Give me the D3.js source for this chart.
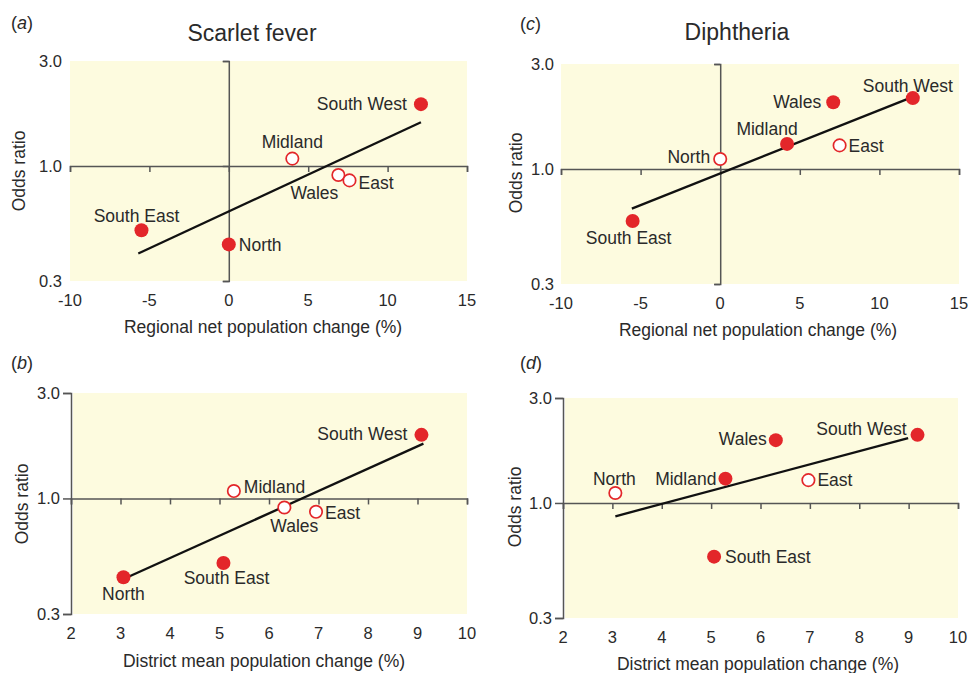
<!DOCTYPE html>
<html>
<head>
<meta charset="utf-8">
<script src="https://cdn.jsdelivr.net/npm/d3@7"></script>
<style>
  body { margin: 0; background: #fff; }
  text { font-family: "Liberation Sans", Arial, sans-serif; fill: #2a2a2a; }
</style>
</head>
<body>
<svg id="chart" width="970" height="673"></svg>
<script>
// Data ------------------------------------------------------------------------------------------
const regions = ["South West", "Midland", "Wales", "East", "South East", "North"];

// (a) scarlet fever vs regional net population change
const sfRegionalChange = [12.1, 4.0, 6.9, 7.6, -5.5, 0.0];
const sfRegionalOR = [1.91, 1.08, 0.91, 0.86, 0.51, 0.44];
const sfRegionalFilled = [true, false, false, false, true, true];
const sfRegionalFit = [[-5.7, 0.40], [12.1, 1.58]];

// (c) diphtheria vs regional net population change
const dpRegionalChange = [12.1, 4.2, 7.1, 7.5, -5.5, 0.0];
const dpRegionalOR = [2.10, 1.30, 2.01, 1.28, 0.58, 1.11];
const dpRegionalFilled = [true, true, true, false, true, false];
const dpRegionalFit = [[-5.55, 0.66], [11.9, 2.10]];

// (b) scarlet fever vs district mean population change
const sfDistrictChange = [9.08, 5.29, 6.31, 6.95, 5.08, 3.06];
const sfDistrictOR = [1.94, 1.08, 0.91, 0.87, 0.51, 0.44];
const sfDistrictFilled = [true, false, false, false, true, true];
const sfDistrictFit = [[3.14, 0.44], [9.12, 1.77]];

// (d) diphtheria vs district mean population change
const dpDistrictChange = [9.18, 5.29, 6.31, 6.97, 5.06, 3.06];
const dpDistrictOR = [2.04, 1.29, 1.93, 1.27, 0.57, 1.11];
const dpDistrictFilled = [true, true, true, false, true, false];
const dpDistrictFit = [[3.06, 0.87], [8.99, 1.97]];

// Ticks
const regionalTicks = [-10, -5, 0, 5, 10, 15];
const districtTicks = [2, 3, 4, 5, 6, 7, 8, 9, 10];
const orTicks = [0.3, 1.0, 3.0];

// Colours ---------------------------------------------------------------------------------------
const red = "#e3262a",
      panelBg = "#fdfbdf",
      axisColor = "#555";

const svg = d3.select("#chart");

// Panel -----------------------------------------------------------------------------------------
const drawPanel = p => {
  const x = d3.scaleLinear().domain(p.xDomain).range(p.xRange);
  const y = d3.scaleLog().domain([0.3, 3]).range(p.yRange);
  const g = svg.append("g");

  // background
  g.append("rect")
    .attr("x", p.xRange[0] + p.bgInset)
    .attr("y", p.yRange[1])
    .attr("width", p.xRange[1] - p.xRange[0] - p.bgInset)
    .attr("height", p.yRange[0] - p.yRange[1])
    .attr("fill", panelBg);

  // letter + title
  const letter = g.append("text")
    .attr("x", p.letterPos[0]).attr("y", p.letterPos[1])
    .style("font-size", "18px");
  letter.append("tspan").text("(");
  letter.append("tspan").style("font-style", "italic").text(p.letter);
  letter.append("tspan").text(")");

  if (p.title) {
    g.append("text")
      .attr("x", p.titlePos[0]).attr("y", p.titlePos[1])
      .attr("text-anchor", "middle")
      .style("font-size", "23px")
      .text(p.title);
  }

  // tick labels (left edge and bottom)
  g.selectAll(".ylab").data(orTicks).join("text")
    .attr("x", p.xRange[0] - p.yLabelGap)
    .attr("y", d => y(d))
    .attr("dy", "0.36em")
    .attr("text-anchor", "end")
    .style("font-size", "16.5px")
    .text(d3.format(".1f"));

  g.selectAll(".xlab").data(p.xTicks).join("text")
    .attr("x", d => x(d))
    .attr("y", p.yRange[0] + 19)
    .attr("dy", "0.36em")
    .attr("text-anchor", "middle")
    .style("font-size", "16.5px")
    .text(d => d);

  // axis lines
  const yAxisX = p.yAxisAtZero ? x(0) : p.xRange[0];
  const yAxis = g.append("g")
    .attr("transform", `translate(${yAxisX},0)`)
    .call(d3.axisLeft(y).tickValues(orTicks).tickFormat("").tickSize(p.yTickSize).tickSizeOuter(p.yTickSize));

  const xAxis = g.append("g")
    .attr("transform", `translate(0,${y(1)})`)
    .call(d3.axisBottom(x).tickValues(p.xTicks).tickFormat("").tickSize(6).tickSizeOuter(6));

  [yAxis, xAxis].forEach(a => {
    a.selectAll("path, line").attr("stroke", axisColor).attr("stroke-width", 1.5);
  });

  // axis titles
  g.append("text")
    .attr("x", p.xTitlePos[0]).attr("y", p.xTitlePos[1])
    .attr("text-anchor", "middle")
    .style("font-size", "17.5px")
    .text(p.xTitle);

  g.append("text")
    .attr("transform", `translate(${p.yTitlePos[0]},${p.yTitlePos[1]}) rotate(-90)`)
    .attr("dy", "0.36em")
    .attr("text-anchor", "middle")
    .style("font-size", "17.5px")
    .text("Odds ratio");

  // fitted line
  g.append("path")
    .datum(p.fit)
    .attr("d", d3.line().x(d => x(d[0])).y(d => y(d[1])))
    .attr("fill", "none")
    .attr("stroke", "#111")
    .attr("stroke-width", 2.3);

  // points
  const pts = regions.map((r, i) => ({region: r, x: p.xs[i], or: p.ors[i], filled: p.filled[i], lab: p.labels[i]}));

  g.selectAll(".pt").data(pts).join("circle")
    .attr("cx", d => x(d.x))
    .attr("cy", d => y(d.or))
    .attr("r", d => d.filled ? 7 : 6.2)
    .attr("fill", d => d.filled ? red : "#fff")
    .attr("stroke", d => d.filled ? "none" : red)
    .attr("stroke-width", 1.7);

  g.selectAll(".plab").data(pts).join("text")
    .attr("x", d => x(d.x) + d.lab[1])
    .attr("y", d => y(d.or) + d.lab[2])
    .attr("dy", "0.36em")
    .attr("text-anchor", d => d.lab[0])
    .style("font-size", "17.5px")
    .text(d => d.region);
};

// Panels ----------------------------------------------------------------------------------------
// label layout per region (same order as regions): [anchor, dx, dy]
drawPanel({
  letter: "a", letterPos: [11, 29], title: "Scarlet fever", titlePos: [252, 41],
  xDomain: [-10, 15], xRange: [70, 467], yRange: [281, 61], bgInset: 0,
  xTicks: regionalTicks, yAxisAtZero: true, yTickSize: 6, yLabelGap: 8,
  xTitle: "Regional net population change (%)", xTitlePos: [263, 333], yTitlePos: [19, 171],
  xs: sfRegionalChange, ors: sfRegionalOR, filled: sfRegionalFilled, fit: sfRegionalFit,
  labels: [["end", -14, 0], ["middle", 0, -17], ["middle", -24, 18], ["start", 9, 2], ["middle", -5, -15], ["start", 10, 0]]
});

drawPanel({
  letter: "c", letterPos: [520, 30], title: "Diphtheria", titlePos: [737, 40],
  xDomain: [-10, 15], xRange: [561, 959], yRange: [284, 64], bgInset: 0,
  xTicks: regionalTicks, yAxisAtZero: true, yTickSize: 6, yLabelGap: 7,
  xTitle: "Regional net population change (%)", xTitlePos: [758, 336], yTitlePos: [516, 173],
  xs: dpRegionalChange, ors: dpRegionalOR, filled: dpRegionalFilled, fit: dpRegionalFit,
  labels: [["middle", -5, -12], ["middle", -20, -15], ["end", -12, -1], ["start", 9, 0], ["middle", -4, 17], ["end", -10, -2]]
});

drawPanel({
  letter: "b", letterPos: [11, 369], title: null,
  xDomain: [2, 10], xRange: [71, 467], yRange: [614, 393], bgInset: 2,
  xTicks: districtTicks, yAxisAtZero: false, yTickSize: 8, yLabelGap: 11,
  xTitle: "District mean population change (%)", xTitlePos: [264, 667], yTitlePos: [22, 504],
  xs: sfDistrictChange, ors: sfDistrictOR, filled: sfDistrictFilled, fit: sfDistrictFit,
  labels: [["end", -14, -1], ["start", 10, -4], ["middle", 10, 18], ["start", 9, 1], ["middle", 3, 15], ["middle", 0, 16]]
});

drawPanel({
  letter: "d", letterPos: [520, 369], title: null,
  xDomain: [2, 10], xRange: [563, 958], yRange: [618, 398], bgInset: 2,
  xTicks: districtTicks, yAxisAtZero: false, yTickSize: 8, yLabelGap: 11,
  xTitle: "District mean population change (%)", xTitlePos: [758, 670], yTitlePos: [515, 507],
  xs: dpDistrictChange, ors: dpDistrictOR, filled: dpDistrictFilled, fit: dpDistrictFit,
  labels: [["end", -11, -6], ["end", -9, 0], ["end", -9, -1], ["start", 9, 0], ["start", 11, 0], ["middle", -1, -14]]
});
</script>
</body>
</html>
